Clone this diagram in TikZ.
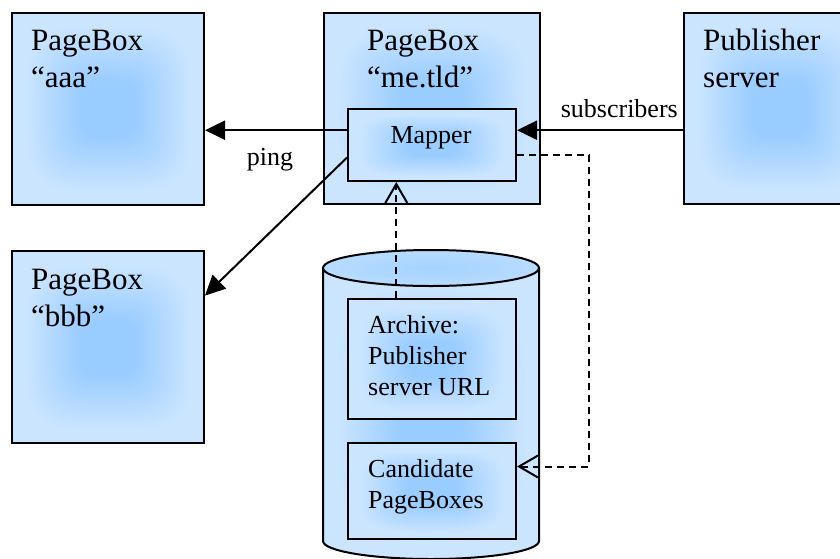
\documentclass[tikz,border=0pt]{standalone}
\usepackage{fontspec}
\setmainfont{Liberation Serif}
\usetikzlibrary{arrows.meta,calc}

\definecolor{capedge}{RGB}{184,220,255}
\definecolor{capmid}{RGB}{164,210,255}

% rounded-square glow: saturated blue in the middle, pale toward the border
% (a shaded path covers the central 50bp square of the shading)
\pgfdeclarefunctionalshading{squareglow}{\pgfpoint{-50bp}{-50bp}}{\pgfpoint{50bp}{50bp}}{}{
  dup mul dup mul exch dup mul dup mul add 0.25 exp
  7 sub 15 div dup 0 lt {pop 0} if dup 1 gt {pop 1} if
  dup 0.2 mul 0.6 add exch 0.1 mul 0.8 add 1
}

\tikzset{
  box/.style={draw, line width=2pt, shade, shading=squareglow,
              anchor=north west, inner sep=0pt},
  bigtext/.style={font=\fontsize{31}{37}\selectfont, align=left,
                  anchor=base west, inner sep=0pt},
  smalltext/.style={font=\fontsize{26}{31}\selectfont, align=left,
                    anchor=base west, inner sep=0pt},
  lbl/.style={font=\fontsize{26}{31}\selectfont, inner sep=0pt},
  solidarrow/.style={line width=2pt, -{Triangle[length=20pt,width=19pt]}},
  dashedarrow/.style={line width=2pt, dash pattern=on 7pt off 5pt,
                      -{Straight Barb[length=19pt,width=22pt]}}
}

\begin{document}
\begin{tikzpicture}[x=1pt,y=-1pt]
\useasboundingbox (0,0) rectangle (840,558);

% page boxes
\node[box, minimum width=192pt, minimum height=192pt] (aaa) at (11,12) {};
\node[box, minimum width=216pt, minimum height=191pt] (me) at (323,12) {};
\node[box, minimum width=192pt, minimum height=191pt] (pub) at (683,12) {};
\node[box, minimum width=192pt, minimum height=192pt] (bbb) at (11,250) {};
\node[box, minimum width=168pt, minimum height=72pt] (mapper) at (347,108) {};

% multi-line texts are placed by the baseline of their last line
\node[bigtext] (aaaT) at (31,87) {PageBox\\“aaa”};
\node[bigtext] (meT) at (367,87) {PageBox\\“me.tld”};
\node[bigtext] (pubT) at (703,87) {Publisher\\server};
\node[bigtext] (bbbT) at (31,326) {PageBox\\“bbb”};
\node[smalltext, anchor=base] (mapT) at (431,143) {Mapper};

% database cylinder
\path[shade, shading=squareglow] (323,268) -- (323,541)
  arc[start angle=180, end angle=0, x radius=108, y radius=18] -- (539,268) -- cycle;
\draw[line width=2pt] (323,268) -- (323,541)
  arc[start angle=180, end angle=0, x radius=108, y radius=18] -- (539,268);
\shade[inner color=capmid, outer color=capedge] (431,268) ellipse[x radius=108, y radius=18];
\draw[line width=2pt] (431,268) ellipse[x radius=108, y radius=18];

\node[box, minimum width=168pt, minimum height=120pt] (arch) at (347,298) {};
\node[box, minimum width=168pt, minimum height=96pt] (cand) at (347,442) {};
\node[smalltext] (archT) at (368,395) {Archive:\\Publisher\\server URL};
\node[smalltext] (candT) at (368,508) {Candidate\\PageBoxes};

% connector end points on the box borders
\coordinate (mL1) at ($(mapper.north west)!0.3!(mapper.south west)$);
\coordinate (mL2) at ($(mapper.north west)!0.67!(mapper.south west)$);
\coordinate (mR) at ($(mapper.north east)!0.64!(mapper.south east)$);
\coordinate (bIn) at ($(bbb.north east)!0.235!(bbb.south east)$);
\coordinate (cIn) at ($(cand.north east)!0.25!(cand.south east)$);
\coordinate (aTop) at ($(arch.north west)!0.29!(arch.north east)$);

% connectors
\draw[solidarrow] (mL1) -- (mL1 -| aaa.east);
\draw[solidarrow] (mL2) -- (bIn);
\draw[solidarrow] (mL1 -| pub.west) -- (mL1 -| mapper.east);
\draw[dashedarrow] (mR) -- ++(72,0) |- (cIn);
\draw[dashedarrow] (aTop) -- (aTop |- mapper.south);

\node[lbl, anchor=base] (ping) at (270,165) {ping};
\node[lbl, anchor=base east] (subs) at (678,117) {subscribers};
\end{tikzpicture}
\end{document}
